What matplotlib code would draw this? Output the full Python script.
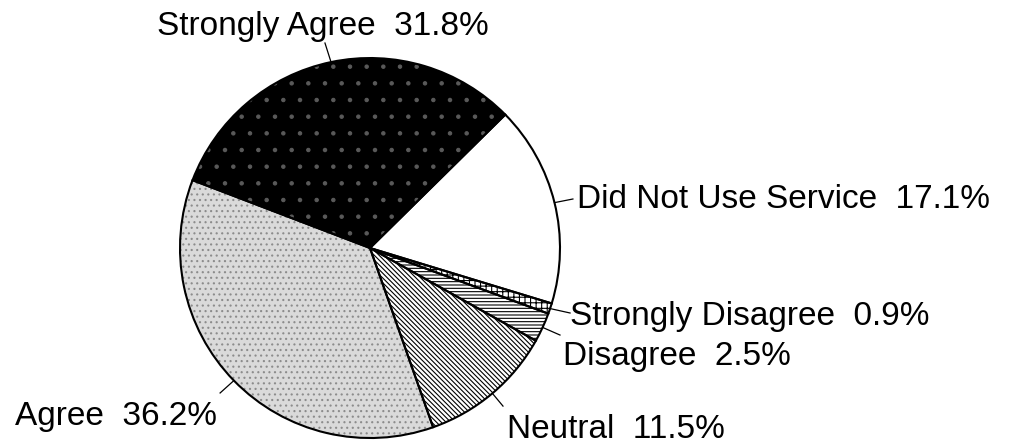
import numpy as np
import matplotlib
matplotlib.use("Agg")
import matplotlib.pyplot as plt

# slices in drawing order (clockwise from the upper right)
labels = ["Did Not Use Service", "Strongly Disagree", "Disagree",
          "Neutral", "Agree", "Strongly Agree"]
shares = [17.1, 0.9, 2.5, 11.5, 36.2, 31.8]

# fill styles
face_colors = ["white", "white", "white", "white", "#dadada", "black"]
hatch_colors = ["white", "black", "black", "black", "#8c8c8c", "#5a5a5a"]
hatches = ["", "+++", "-----", "\\" * 7, "...", "."]

# label layout in pie units (radius 1): text baseline-left and leader end
text_pos = [(1.089, 0.21), (1.053, -0.405), (1.016, -0.616),
            (0.721, -1.0), (-1.868, -0.932), (-1.121, 1.121)]
leader_end = [(1.068, 0.258), (1.053, -0.342), (1.0, -0.458),
              (0.70, -0.832), (-0.789, -0.763), (-0.237, 1.079)]

plt.rcParams["font.family"] = ["Liberation Sans", "DejaVu Sans"]
plt.rcParams["hatch.linewidth"] = 0.8

fig = plt.figure(figsize=(10.13, 4.45), dpi=100)
ax = fig.add_axes([0.1777, 0.0157, 0.3751, 0.8539])

fills, _ = ax.pie(shares, startangle=44.6, counterclock=False, radius=1,
                  wedgeprops=dict(linewidth=0))
for w, fc, hc, h in zip(fills, face_colors, hatch_colors, hatches):
    w.set_facecolor(fc)
    w.set_edgecolor(hc)
    w.set_hatch(h)

outlines, _ = ax.pie(shares, startangle=44.6, counterclock=False, radius=1,
                     wedgeprops=dict(fill=False, edgecolor="black", linewidth=1.5))

for w, lab, val, tp, le in zip(outlines, labels, shares, text_pos, leader_end):
    mid = np.deg2rad((w.theta1 + w.theta2) / 2)
    ax.plot([np.cos(mid), le[0]], [np.sin(mid), le[1]], color="black",
            linewidth=0.9, clip_on=False)
    ax.text(tp[0], tp[1], f"{lab}  {val:.1f}%", fontsize=24, ha="left",
            va="baseline", color="black", clip_on=False)

ax.set_xlim(-1, 1)
ax.set_ylim(-1, 1)
ax.set_aspect("equal")
ax.axis("off")

fig.savefig("out.png", dpi=100, facecolor="white")
